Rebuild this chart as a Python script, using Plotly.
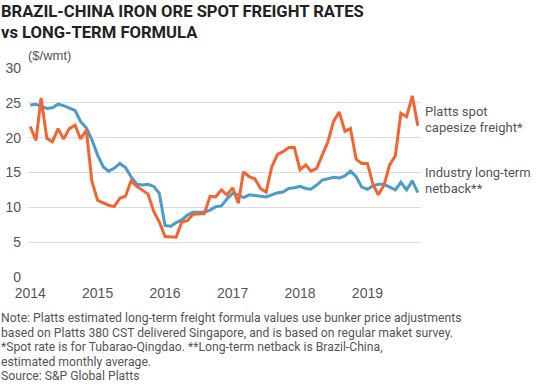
import pandas as pd
import plotly.graph_objects as go

months = pd.date_range("2014-01-01", periods=70, freq="MS")

spot_capesize = [21.6, 19.6, 25.7, 19.9, 19.4, 21.3, 19.8, 21.3, 21.8, 19.8,
                 21.1, 13.7, 11.0, 10.6, 10.3, 10.1, 11.3, 11.6, 13.8, 13.0,
                 12.5, 11.9, 9.4, 7.9, 5.8, 5.7, 5.7, 7.9, 8.1, 9.0,
                 9.1, 9.1, 11.6, 11.5, 12.5, 11.8, 12.8, 10.6, 15.1, 14.4,
                 14.1, 12.7, 12.2, 15.8, 17.6, 18.0, 18.6, 18.6, 15.4, 16.1,
                 15.2, 15.6, 17.5, 19.4, 22.3, 23.7, 20.9, 21.3, 16.9, 16.3,
                 16.3, 13.2, 11.8, 13.2, 16.1, 17.4, 23.5, 23.0, 26.0, 21.7]

lt_netback = [24.7, 24.8, 24.5, 24.2, 24.3, 24.8, 24.6, 24.3, 23.9, 22.3,
              21.4, 19.7, 17.5, 15.8, 15.2, 15.6, 16.3, 15.7, 14.4, 13.3,
              13.2, 13.3, 13.0, 12.0, 7.4, 7.3, 7.8, 8.2, 8.9, 9.3,
              9.3, 9.3, 9.6, 10.1, 10.2, 11.2, 12.0, 11.8, 11.4, 11.8,
              11.7, 11.6, 11.5, 11.8, 12.1, 12.2, 12.7, 12.8, 13.0, 12.7,
              12.6, 13.2, 13.9, 14.1, 14.3, 14.2, 14.5, 15.2, 14.4, 12.9,
              12.6, 13.1, 13.3, 13.3, 12.9, 12.5, 13.6, 12.5, 13.8, 12.1]

y_ticks = [0, 5, 10, 15, 20, 25, 30]
x_tick_years = ["2014", "2015", "2016", "2017", "2018", "2019"]

title_lines = ["BRAZIL-CHINA IRON ORE SPOT FREIGHT RATES", "vs LONG-TERM FORMULA"]
spot_label = ["Platts spot", "capesize freight*"]
netback_label = ["Industry long-term", "netback**"]
note_lines = [
    "Note: Platts estimated long-term freight formula values use bunker price adjustments",
    "based on Platts 380 CST delivered Singapore, and is based on regular maket survey.",
    "*Spot rate is for Tubarao-Qingdao. **Long-term netback is Brazil-China,",
    "estimated monthly average.",
    "Source: S&P Global Platts",
]

ORANGE = "#F26532"
BLUE = "#4A9CC9"
NARROW = "Roboto, Liberation Sans, Arial, sans-serif"
REG = "Liberation Sans, Arial, sans-serif"

W, H = 560, 389
ML, MR, MT, MB = 28, 139, 68, 112
PH = H - MT - MB
PW = W - ML - MR


def py(y):
    return (H - MB - y) / PH


def px(x):
    return (x - ML) / PW


fig = go.Figure()
fig.add_trace(go.Scatter(x=months, y=lt_netback, mode="lines",
                         line=dict(color=BLUE, width=3), hoverinfo="skip"))
fig.add_trace(go.Scatter(x=months, y=spot_capesize, mode="lines",
                         line=dict(color=ORANGE, width=3), hoverinfo="skip"))

ann = []
for i, t in enumerate(title_lines):
    ann.append(dict(text="<b>" + t + "</b>", x=px(0), y=py(22.3 + 21 * i),
                    xref="paper", yref="paper", xanchor="left", yanchor="bottom",
                    showarrow=False, font=dict(family=NARROW, size=16.6, color="#222222"),
                    borderpad=0))
ann.append(dict(text="($/wmt)", x=px(27), y=py(64), xref="paper", yref="paper",
                xanchor="left", yanchor="bottom", showarrow=False, borderpad=0,
                font=dict(family=REG, size=13, color="#555555")))
for i, t in enumerate(spot_label):
    ann.append(dict(text=t, x=px(424), y=py(120 + 15.6 * i), xref="paper", yref="paper",
                    xanchor="left", yanchor="bottom", showarrow=False, borderpad=0,
                    font=dict(family=NARROW, size=13, color="#555555")))
for i, t in enumerate(netback_label):
    ann.append(dict(text=t, x=px(424), y=py(181 + 15.6 * i), xref="paper", yref="paper",
                    xanchor="left", yanchor="bottom", showarrow=False, borderpad=0,
                    font=dict(family=NARROW, size=13, color="#555555")))
for i, t in enumerate(note_lines):
    ann.append(dict(text=t, x=px(0), y=py(326 + 14.6 * i), xref="paper", yref="paper",
                    xanchor="left", yanchor="bottom", showarrow=False, borderpad=0,
                    font=dict(family=NARROW, size=12.2, color="#555555")))

fig.update_layout(
    template="none",
    width=W, height=H,
    margin=dict(l=ML, r=MR, t=MT, b=MB, pad=0, autoexpand=False),
    paper_bgcolor="white", plot_bgcolor="white",
    showlegend=False,
    annotations=ann,
    xaxis=dict(
        type="date", automargin=False,
        range=["2013-12-20", "2019-10-18"],
        tickvals=[f"{y}-01-01" for y in x_tick_years],
        ticktext=x_tick_years,
        showgrid=False, zeroline=False, showline=False, ticks="",
        ticklabelstandoff=6,
        tickfont=dict(family=REG, size=14, color="#555555"),
    ),
    yaxis=dict(
        range=[0, 30], automargin=False,
        tickvals=y_ticks,
        showgrid=True, gridcolor="#DCDCDC", gridwidth=1,
        zeroline=False, showline=False, ticks="",
        ticklabelstandoff=6,
        tickfont=dict(family=REG, size=14, color="#555555"),
    ),
)

fig.write_html("out.html", config={"displayModeBar": False},
               post_script="document.body.style.margin='0';")
